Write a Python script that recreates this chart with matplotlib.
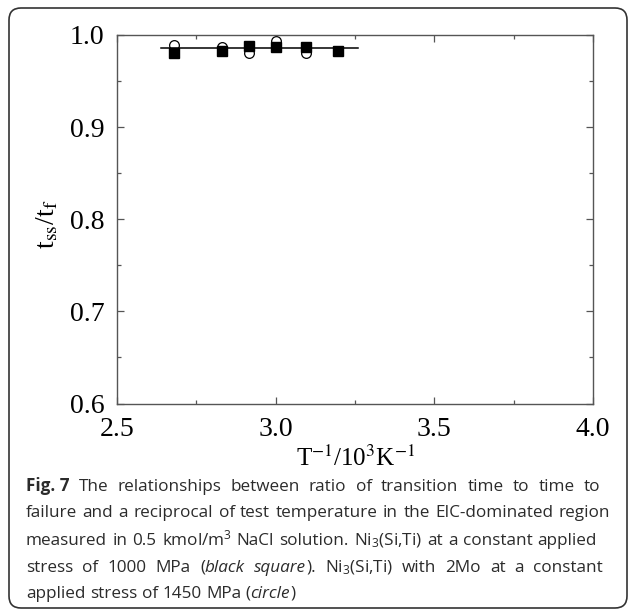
import numpy as np
import matplotlib
matplotlib.use("Agg")
import matplotlib.pyplot as plt
from matplotlib.patches import FancyBboxPatch
from matplotlib.ticker import MultipleLocator

# reciprocal temperature (10^3 / K)
x_inv_T = [2.681, 2.832, 2.916, 3.002, 3.097, 3.195]
# Ni3(Si,Ti) at 1000 MPa (black square)
ratio_square = [0.980, 0.983, 0.988, 0.987, 0.987, 0.983]
# Ni3(Si,Ti) with 2Mo at 1450 MPa (circle)
ratio_circle = [0.989, 0.9875, 0.9805, 0.9935, 0.981, 0.983]
# horizontal fit line
fit_x = [2.64, 3.26]
fit_y = [0.9855, 0.9855]

plt.rcParams['mathtext.fontset'] = 'custom'
plt.rcParams['mathtext.rm'] = 'Open Sans'
plt.rcParams['mathtext.it'] = 'Open Sans:italic'
plt.rcParams['mathtext.bf'] = 'Open Sans:bold'

W, H = 629, 610
fig = plt.figure(figsize=(W / 100, H / 100), dpi=100)
ax = fig.add_axes([117 / W, 1 - 403.5 / H, (593 - 117) / W, (403.5 - 35) / H])

axis_col = '#555555'
ax.plot(x_inv_T, ratio_circle, 'o', ms=7, mfc='white', mec='black', mew=0.9, zorder=2)
ax.plot(fit_x, fit_y, '-', color='black', lw=1.1, zorder=3)
ax.plot(x_inv_T, ratio_square, 's', ms=6.8, color='black', zorder=4)

ax.set_xlim(2.5, 4.0)
ax.set_ylim(0.6, 1.0)
ax.xaxis.set_minor_locator(MultipleLocator(0.25))
ax.yaxis.set_minor_locator(MultipleLocator(0.05))

serif = 'Liberation Serif'
ax.set_xticks([2.5, 3.0, 3.5, 4.0])
ax.set_xticklabels(['2.5', '3.0', '3.5', '4.0'], family=serif, fontsize=20)
ax.set_yticks([0.6, 0.7, 0.8, 0.9, 1.0])
ax.set_yticklabels(['0.6', '0.7', '0.8', '0.9', '1.0'], family=serif, fontsize=20)
ax.tick_params(which='both', direction='in', top=True, right=True, color=axis_col, width=0.9)
ax.tick_params(which='major', length=5)
ax.tick_params(which='minor', length=3)
ax.tick_params(axis='x', pad=10)
ax.tick_params(axis='y', pad=9)
for sp in ax.spines.values():
    sp.set_color(axis_col)
    sp.set_linewidth(1.0)

fig.text(356 / W, 1 - 458 / H, r'T$^{\mathrm{-1}}$/10$^{\mathrm{3}}$K$^{\mathrm{-1}}$',
         family=serif, fontsize=18, ha='center', va='center',
         math_fontfamily='stix')
fig.text(48 / W, 1 - 224 / H, r't$_{\mathrm{ss}}$/t$_{\mathrm{f}}$', family=serif,
         fontsize=20, ha='center', va='center', rotation=90, math_fontfamily='stix')

# caption, word by word so the first four lines can be justified
cap = [
    [('Fig.\u00a07', 'bold', 'normal'),
     (' The relationships between ratio of transition time to time to', 'normal', 'normal')],
    [('failure and a reciprocal of test temperature in the EIC-dominated region', 'normal', 'normal')],
    [(r'measured in 0.5 kmol/m$^3$ NaCl solution. Ni$_3$(Si,Ti) at a constant applied', 'normal', 'normal')],
    [('stress of 1000 MPa (', 'normal', 'normal'), ('black square', 'normal', 'italic'),
     (r'). Ni$_3$(Si,Ti) with 2Mo at a constant', 'normal', 'normal')],
    [('applied stress of 1450 MPa (', 'normal', 'normal'), ('circle', 'normal', 'italic'),
     (')', 'normal', 'normal')],
]
cap_y = [491, 517, 545, 572, 598]   # baselines
cap_end = [600, 610, 597, 603, None]
cap_size = 12.3
renderer = fig.canvas.get_renderer()

probe = fig.text(0, 0, 'x x', family='Open Sans', fontsize=cap_size)
w2 = probe.get_window_extent(renderer).width
probe.set_text('xx')
space_w = w2 - probe.get_window_extent(renderer).width
probe.remove()

for chunks, yy, x_end in zip(cap, cap_y, cap_end):
    tokens = []
    pending = False
    for txt, wt, st in chunks:
        for i, part in enumerate(txt.split(' ')):
            if i > 0:
                pending = True
            if part:
                t = fig.text(0, 1 - yy / H, part, family='Open Sans', fontsize=cap_size,
                             weight=wt, style=st, color='#2b2b2b', ha='left', va='baseline')
                tokens.append((t, t.get_window_extent(renderer).width, pending and len(tokens) > 0))
                pending = False
    n_gaps = sum(1 for tk in tokens if tk[2])
    gap = space_w
    if x_end is not None and n_gaps:
        gap = (x_end - 26 - sum(tk[1] for tk in tokens)) / n_gaps
    x = 26
    for t, w, sp in tokens:
        if sp:
            x += gap
        t.set_x(x / W)
        x += w

box = FancyBboxPatch((9 / 100, (H - 608) / 100), 618 / 100, 600 / 100,
                     boxstyle='round,pad=0,rounding_size=0.12',
                     transform=fig.dpi_scale_trans, fill=False, ec='#333333', lw=1.2)
fig.patches.append(box)

fig.savefig('out.png', dpi=100)
